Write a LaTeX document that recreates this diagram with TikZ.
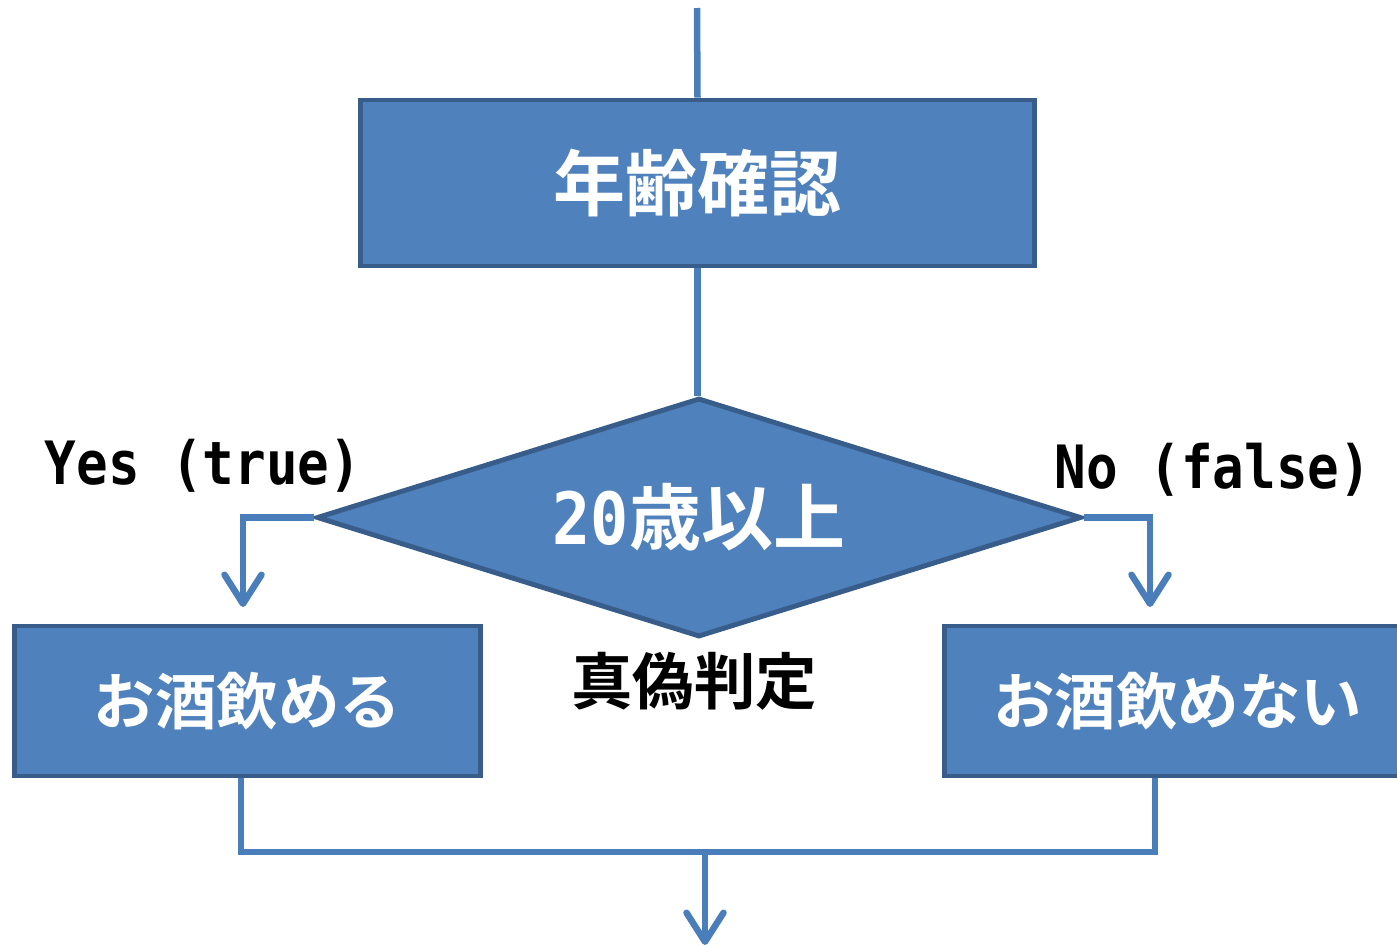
\documentclass[tikz,border=0pt]{standalone}
\usepackage{fontspec}
\newfontfamily\jp{Noto Sans CJK JP}[BoldFont={Noto Sans CJK JP Bold}]
\newfontfamily\mono{DejaVu Sans Mono}[FakeStretch=0.88]
\usetikzlibrary{shapes.geometric,arrows.meta}
\definecolor{boxfill}{HTML}{4F81BD}
\definecolor{boxline}{HTML}{385D8A}
\definecolor{conn}{HTML}{4A7EBB}
\tikzset{
  stepbox/.style={draw=boxline,fill=boxfill,line width=2.8pt,inner sep=0pt,text=white},
  decide/.style={stepbox,diamond,aspect=3.2,minimum width=15.3cm,minimum height=4.78cm},
  wire/.style={draw=conn,line width=3.7pt},
  tip/.style={-{Straight Barb[length=0.58cm,width=0.74cm,round]}},
  label/.style={inner sep=0pt,text=black}
}
\begin{document}
\begin{tikzpicture}[x=0.02cm,y=-0.02cm]
\useasboundingbox (0,0) rectangle (1397,947) ;

% boxes
\node[stepbox,minimum width=13.5cm,minimum height=3.32cm] (age) at (697.5,183) {\jp\bfseries\fontsize{41}{41}\selectfont 年齢確認} ;
\node[decide] (adult) at (699,517.5) {\bfseries\fontsize{41}{41}\selectfont{\mono 20}\jp 歳以上} ;
\node[stepbox,minimum width=9.34cm,minimum height=3cm] (yes) at (247.5,701) {\jp\bfseries\fontsize{35}{35}\selectfont お酒飲める} ;
\node[stepbox,minimum width=9.34cm,minimum height=3cm] (no) at (1177.5,701) {\jp\bfseries\fontsize{35}{35}\selectfont お酒飲めない} ;

% labels
\node[label] (yeslbl) at (203,466) {\mono\bfseries\fontsize{34}{34}\selectfont Yes (true)} ;
\node[label] (nolbl) at (1213,470) {\mono\bfseries\fontsize{34}{34}\selectfont No (false)} ;
\node[label] (judge) at (694,681) {\jp\bfseries\fontsize{35}{35}\selectfont 真偽判定} ;

% connectors
\coordinate (in) at (697,8) ;
\coordinate (ytip) at (243,607) ;
\coordinate (ntip) at (1150,607) ;
\coordinate (jl) at (241,852) ;
\coordinate (jr) at (1155,852) ;
\coordinate (jm) at (705,852) ;
\coordinate (out) at (705,945) ;

\draw[wire] (in) -- (age.north) ;
\draw[wire] (age.south) -- (age.south |- adult.north) ;
\draw[wire,tip] (adult.west) -| (ytip) ;
\draw[wire,tip] (adult.east) -| (ntip) ;
\draw[wire] (yes.south -| jl) -- (jl) -- (jr) -- (no.south -| jr) ;
\draw[wire,tip] (jm) -- (out) ;
\end{tikzpicture}
\end{document}
